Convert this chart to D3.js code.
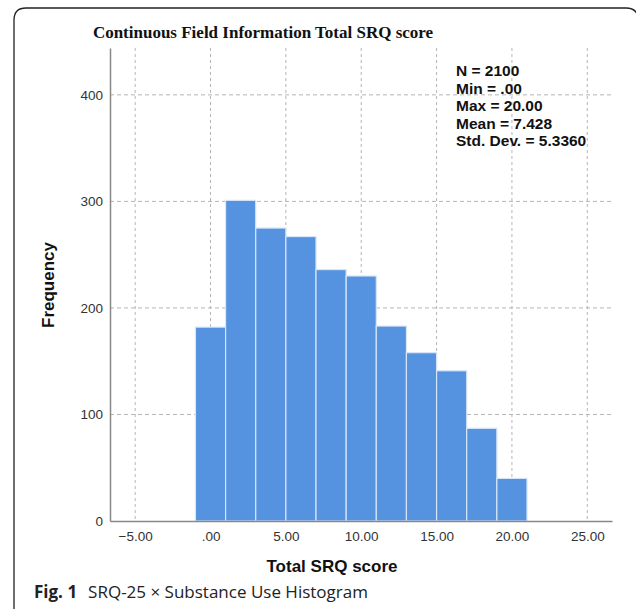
<!DOCTYPE html>
<html>
<head>
  <meta charset="utf-8">
  <style>
    body { margin: 0; background: #fff; }
    svg { display: block; }
    .tick text { font: 13.5px Arial, "Liberation Sans", sans-serif; fill: #333; }
    .axis-title { font: bold 17px Arial, "Liberation Sans", sans-serif; fill: #111; text-anchor: middle; }
    .title { font: bold 17px "Liberation Serif", "Times New Roman", serif; fill: #111; text-anchor: middle; }
    .stats text { font: bold 15.5px Arial, "Liberation Sans", sans-serif; fill: #111; }
    .caption { font: 17px "Open Sans", "Noto Sans", sans-serif; fill: #222; }
  </style>
  <script src="https://d3js.org/d3.v7.min.js"></script>
</head>
<body>
  <svg width="636" height="609"></svg>
  <script>
    // histogram bins (centres) and counts
    var binCentres = [0, 2, 4, 6, 8, 10, 12, 14, 16, 18, 20];
    var frequencies = [182, 301, 275, 267, 236, 230, 183, 158, 141, 87, 40];
    var binWidth = 2;
    var xTicks = [-5, 0, 5, 10, 15, 20, 25];
    var yTicks = [0, 100, 200, 300, 400];
    var statLines = ["N = 2100", "Min = .00", "Max = 20.00", "Mean = 7.428", "Std. Dev. = 5.3360"];

    (function () {
      var svg = d3.select("svg");
      var pl = 110, pr = 612, pt = 48, pb = 521;

      // outer frame, rounded top corners, open at the bottom
      svg.append("path")
        .attr("d", "M14,609 L14,20 Q14,8 26,8 L626,8 Q638,8 638,20 L638,609")
        .attr("fill", "none")
        .attr("stroke", "#222")
        .attr("stroke-width", 1.3);

      var x = d3.scaleLinear().domain([-6.67, 26.64]).range([pl, pr]);
      var y = d3.scaleLinear().domain([0, 444]).range([pb, pt]);

      // grid
      svg.append("g").selectAll("line")
        .data(xTicks)
        .enter().append("line")
        .attr("x1", function (d) { return x(d); })
        .attr("x2", function (d) { return x(d); })
        .attr("y1", pt).attr("y2", pb)
        .attr("stroke", "#b5b5b5").attr("stroke-dasharray", "3,3");
      svg.append("g").selectAll("line")
        .data(yTicks.slice(1))
        .enter().append("line")
        .attr("x1", pl).attr("x2", pr)
        .attr("y1", function (d) { return y(d); })
        .attr("y2", function (d) { return y(d); })
        .attr("stroke", "#b5b5b5").attr("stroke-dasharray", "4,3");

      // bars
      svg.append("g").selectAll("rect")
        .data(binCentres)
        .enter().append("rect")
        .attr("x", function (d) { return x(d - binWidth / 2); })
        .attr("width", function (d) { return x(d + binWidth / 2) - x(d - binWidth / 2); })
        .attr("y", function (d, i) { return y(frequencies[i]); })
        .attr("height", function (d, i) { return pb - y(frequencies[i]); })
        .attr("fill", "#5592e0")
        .attr("stroke", "#d6e6fa")
        .attr("stroke-width", 1.2);

      // axes
      var xAxis = svg.append("g")
        .attr("transform", "translate(0," + pb + ")")
        .call(d3.axisBottom(x).tickValues(xTicks).tickSize(0).tickPadding(10)
          .tickFormat(function (d) { return d === 0 ? ".00" : d3.format(".2f")(d); }));
      xAxis.select(".domain").attr("stroke", "#888").attr("stroke-width", 1.5);

      var yAxis = svg.append("g")
        .attr("transform", "translate(" + pl + ",0)")
        .call(d3.axisLeft(y).tickValues(yTicks).tickSize(0).tickPadding(7));
      yAxis.select(".domain").attr("stroke", "#888").attr("stroke-width", 1.5);

      // titles
      svg.append("text").attr("class", "title")
        .attr("x", 263).attr("y", 38)
        .text("Continuous Field Information Total SRQ score");
      svg.append("text").attr("class", "axis-title")
        .attr("x", 332).attr("y", 572)
        .text("Total SRQ score");
      svg.append("text").attr("class", "axis-title")
        .attr("transform", "translate(54,285) rotate(-90)")
        .text("Frequency");

      // stats box
      svg.append("g").attr("class", "stats")
        .selectAll("text")
        .data(statLines)
        .enter().append("text")
        .attr("x", 456)
        .attr("y", function (d, i) { return 76 + i * 17.5; })
        .text(function (d) { return d; });

      // caption
      var cap = svg.append("text").attr("class", "caption").attr("x", 34).attr("y", 598);
      cap.append("tspan").attr("font-weight", "bold").text("Fig. 1");
      cap.append("tspan").attr("dx", 11).text("SRQ-25 \u00d7 Substance Use Histogram");
    })();
  </script>
</body>
</html>
